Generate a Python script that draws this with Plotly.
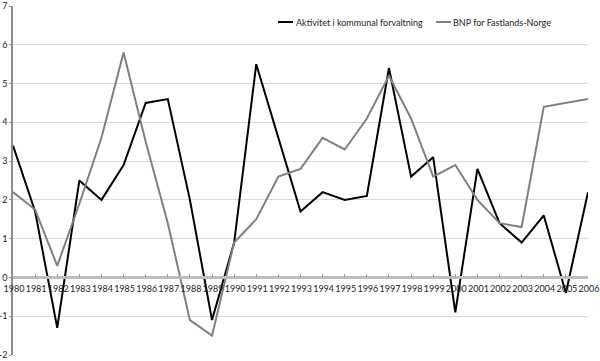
import plotly.graph_objects as go

years = list(range(1980, 2007))
kommunal = [3.4, 1.7, -1.3, 2.5, 2.0, 2.9, 4.5, 4.6, 2.0, -1.1, 0.9, 5.5, 3.6, 1.7,
            2.2, 2.0, 2.1, 5.4, 2.6, 3.1, -0.9, 2.8, 1.4, 0.9, 1.6, -0.4, 2.2]
fastland = [2.2, 1.75, 0.3, 1.9, 3.6, 5.8, 3.5, 1.4, -1.1, -1.5, 0.9, 1.5, 2.6, 2.8,
            3.6, 3.3, 4.1, 5.2, 4.1, 2.6, 2.9, 2.0, 1.4, 1.3, 4.4, 4.5, 4.6]
names = ["Aktivitet i kommunal forvaltning", "BNP for Fastlands-Norge"]
colors = ["#000000", "#808080"]
y_ticks = list(range(-2, 8))
y_labels = [str(v) for v in y_ticks]  # plain hyphen minus like the original

W, H = 600, 361
ML, MR, MT, MB = 13, 12, 6, 6
FONT = "Lato"
FS = 9

fig = go.Figure()
for name, vals, col in zip(names, [kommunal, fastland], colors):
    fig.add_trace(go.Scatter(x=years, y=vals, mode="lines", name=name,
                             line=dict(color=col, width=2), showlegend=False,
                             cliponaxis=False, hoverinfo="skip"))

ymin, ymax = -2, 7
zero_pos = (0 - ymin) / (ymax - ymin)

fig.update_layout(
    width=W, height=H,
    margin=dict(l=ML, r=MR, t=MT, b=MB, autoexpand=False),
    paper_bgcolor="white", plot_bgcolor="white",
    font=dict(family=FONT, size=FS, color="#222222"),
    xaxis=dict(range=[1980, 2006], tickmode="array", tickvals=years,
               ticktext=[str(y) for y in years], tickangle=0, automargin=False,
               anchor="free", position=zero_pos, ticklabeloverflow="allow",
               showline=True, linecolor="#bdbdbd", linewidth=2.5,
               ticks="inside", ticklen=3, tickcolor="#999999", tickwidth=1,
               showgrid=False, zeroline=False, ticklabelshift=1,
               ticklabelstandoff=2,
               tickfont=dict(size=FS, color="#222222")),
    yaxis=dict(range=[ymin, ymax], tickmode="array", tickvals=y_ticks,
               ticktext=y_labels, automargin=False, ticklabeloverflow="allow",
               showline=True, linecolor="#8c8c8c", linewidth=1.5,
               ticks="outside", ticklen=2, tickcolor="#8c8c8c",
               showgrid=True, gridcolor="#d9d9d9", gridwidth=1,
               zeroline=False, tickfont=dict(size=FS, color="#222222")),
)

# legend drawn at the top right, like the original
pw = W - ML - MR
ph = H - MT - MB
def px_x(p):
    return (p - ML) / pw
def px_y(p):
    return (H - MB - p) / ph
leg_y = px_y(22)
items = [(278, 293, 296), (436, 451, 453)]
for (x0, x1, xt), name, col in zip(items, names, colors):
    fig.add_shape(type="line", xref="paper", yref="paper",
                  x0=px_x(x0), x1=px_x(x1), y0=leg_y, y1=leg_y,
                  line=dict(color=col, width=2))
    fig.add_annotation(xref="paper", yref="paper", x=px_x(xt), y=leg_y,
                       text=name, showarrow=False, xanchor="left", yanchor="middle",
                       xshift=-2,
                       font=dict(family=FONT, size=FS, color="#222222"))

fig.write_html("out.html", config={"displayModeBar": False},
               post_script="document.body.style.margin='0px';document.body.style.overflow='hidden';")
